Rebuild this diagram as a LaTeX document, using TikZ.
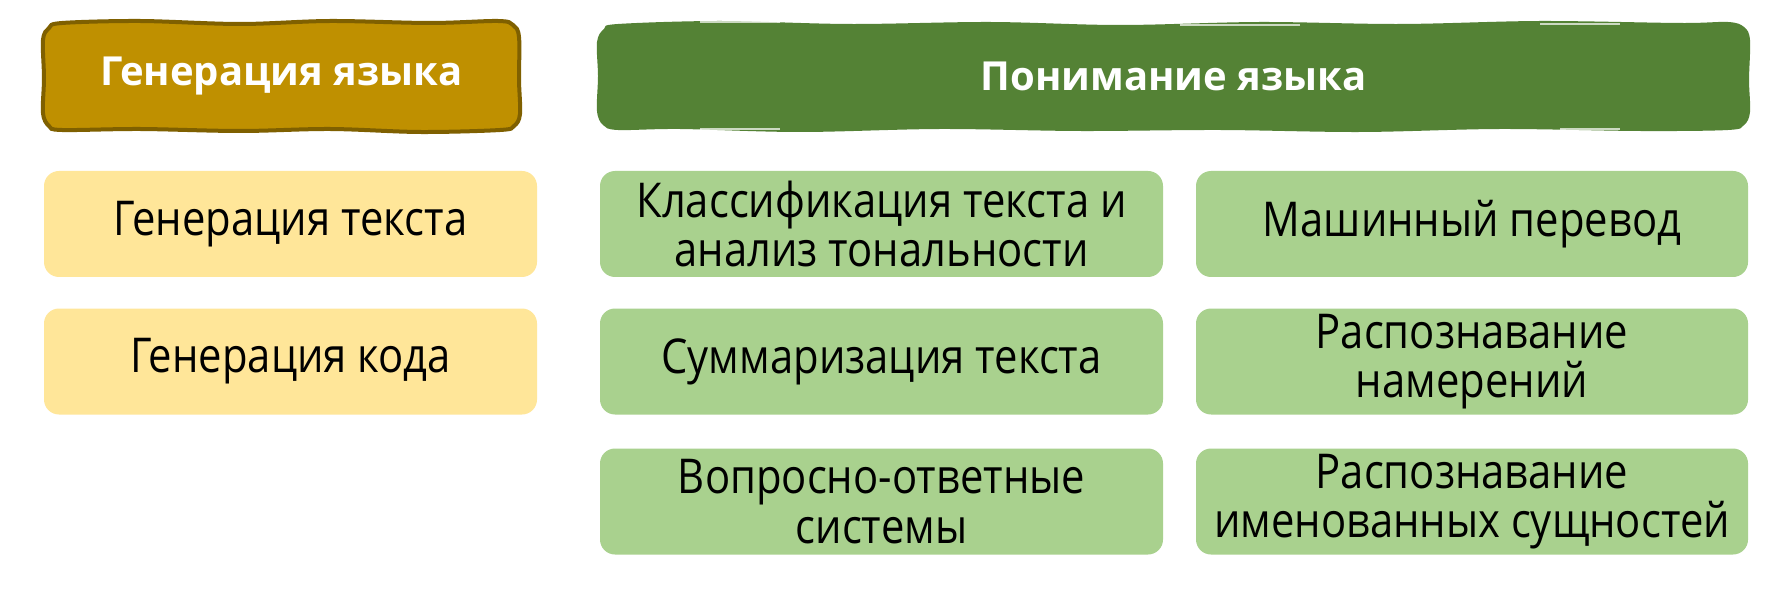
\documentclass[tikz,border=0pt]{standalone}
\usepackage{fontspec}
\setmainfont{Open Sans}[FakeStretch=0.87]
\newfontfamily\hdfont{Open Sans}
\definecolor{goldfill}{HTML}{BF9000}
\definecolor{goldline}{HTML}{7F6000}
\definecolor{darkgreen}{HTML}{548235}
\definecolor{lightyellow}{HTML}{FFE699}
\definecolor{lightgreen}{HTML}{A9D18E}
\begin{document}
\begin{tikzpicture}[x=0.4pt,y=-0.4pt,
  header/.style={inner sep=0pt, text=white,
    font=\hdfont\bfseries\fontsize{16pt}{18pt}\selectfont},
  item/.style={inner sep=0pt, rounded corners=6pt, align=center,
    font=\fontsize{19.2pt}{19.8pt}\selectfont, text=black,
    minimum height=106*0.4pt},
  yitem/.style={item, fill=lightyellow, minimum width=493*0.4pt},
  gitem/.style={item, fill=lightgreen},
  wobble/.style={smooth cycle, tension=0.55}
]
\fill[white] (0,0) rectangle (1791,592);
\useasboundingbox (0,0) rectangle (1791,592);

% hand-drawn header shapes
\draw[fill=goldfill, draw=goldline, line width=1.6pt] plot[wobble] coordinates {
  (62,23) (140,21) (240,24) (330,21) (430,23) (498,21) (513,25) (519,37)
  (519,80) (520,114) (514,126) (500,130) (420,132) (330,129) (240,131)
  (140,129) (62,130) (49,126) (43,113) (44,78) (43,40) (49,28)};
\fill[darkgreen] plot[wobble] coordinates {
  (618,24) (720,21) (850,24) (990,22) (1120,25) (1260,22) (1400,24) (1540,21)
  (1680,23) (1728,22) (1744,27) (1750,40) (1749,80) (1750,112) (1744,125)
  (1728,130) (1640,131) (1500,129) (1360,132) (1220,130) (1080,131) (940,129)
  (800,132) (680,129) (618,130) (603,125) (597,111) (598,76) (597,42) (604,29)};
\draw[white, line width=0.8pt, opacity=0.7] (700,22.5) -- (780,22.5) (1180,25) -- (1300,25) (1540,24) -- (1620,24);
\draw[white, line width=0.8pt, opacity=0.7] (700,129) -- (780,129) (1560,129) -- (1620,129);

\node[header] (hgen) at (281.5,76) {Генерация языка};
\node[header] (hund) at (1173.5,76) {Понимание языка};

\node[yitem] (gtext) at (290.5,224) {Генерация текста};
\node[yitem] (gcode) at (290.5,361.5) {Генерация кода};

\node[gitem, minimum width=563*0.4pt] (cls) at (881.5,224) {Классификация текста и\\анализ тональности};
\node[gitem, minimum width=563*0.4pt] (sum) at (881.5,361.5) {Суммаризация текста};
\node[gitem, minimum width=563*0.4pt] (qa) at (881.5,501.5) {Вопросно-ответные\\системы};

\node[gitem, minimum width=552*0.4pt] (mt) at (1472,224) {Машинный перевод};
\node[gitem, minimum width=552*0.4pt] (intent) at (1472,361.5) {Распознавание\\намерений};
\node[gitem, minimum width=552*0.4pt] (ner) at (1472,501.5) {Распознавание\\именованных сущностей};
\end{tikzpicture}
\end{document}
